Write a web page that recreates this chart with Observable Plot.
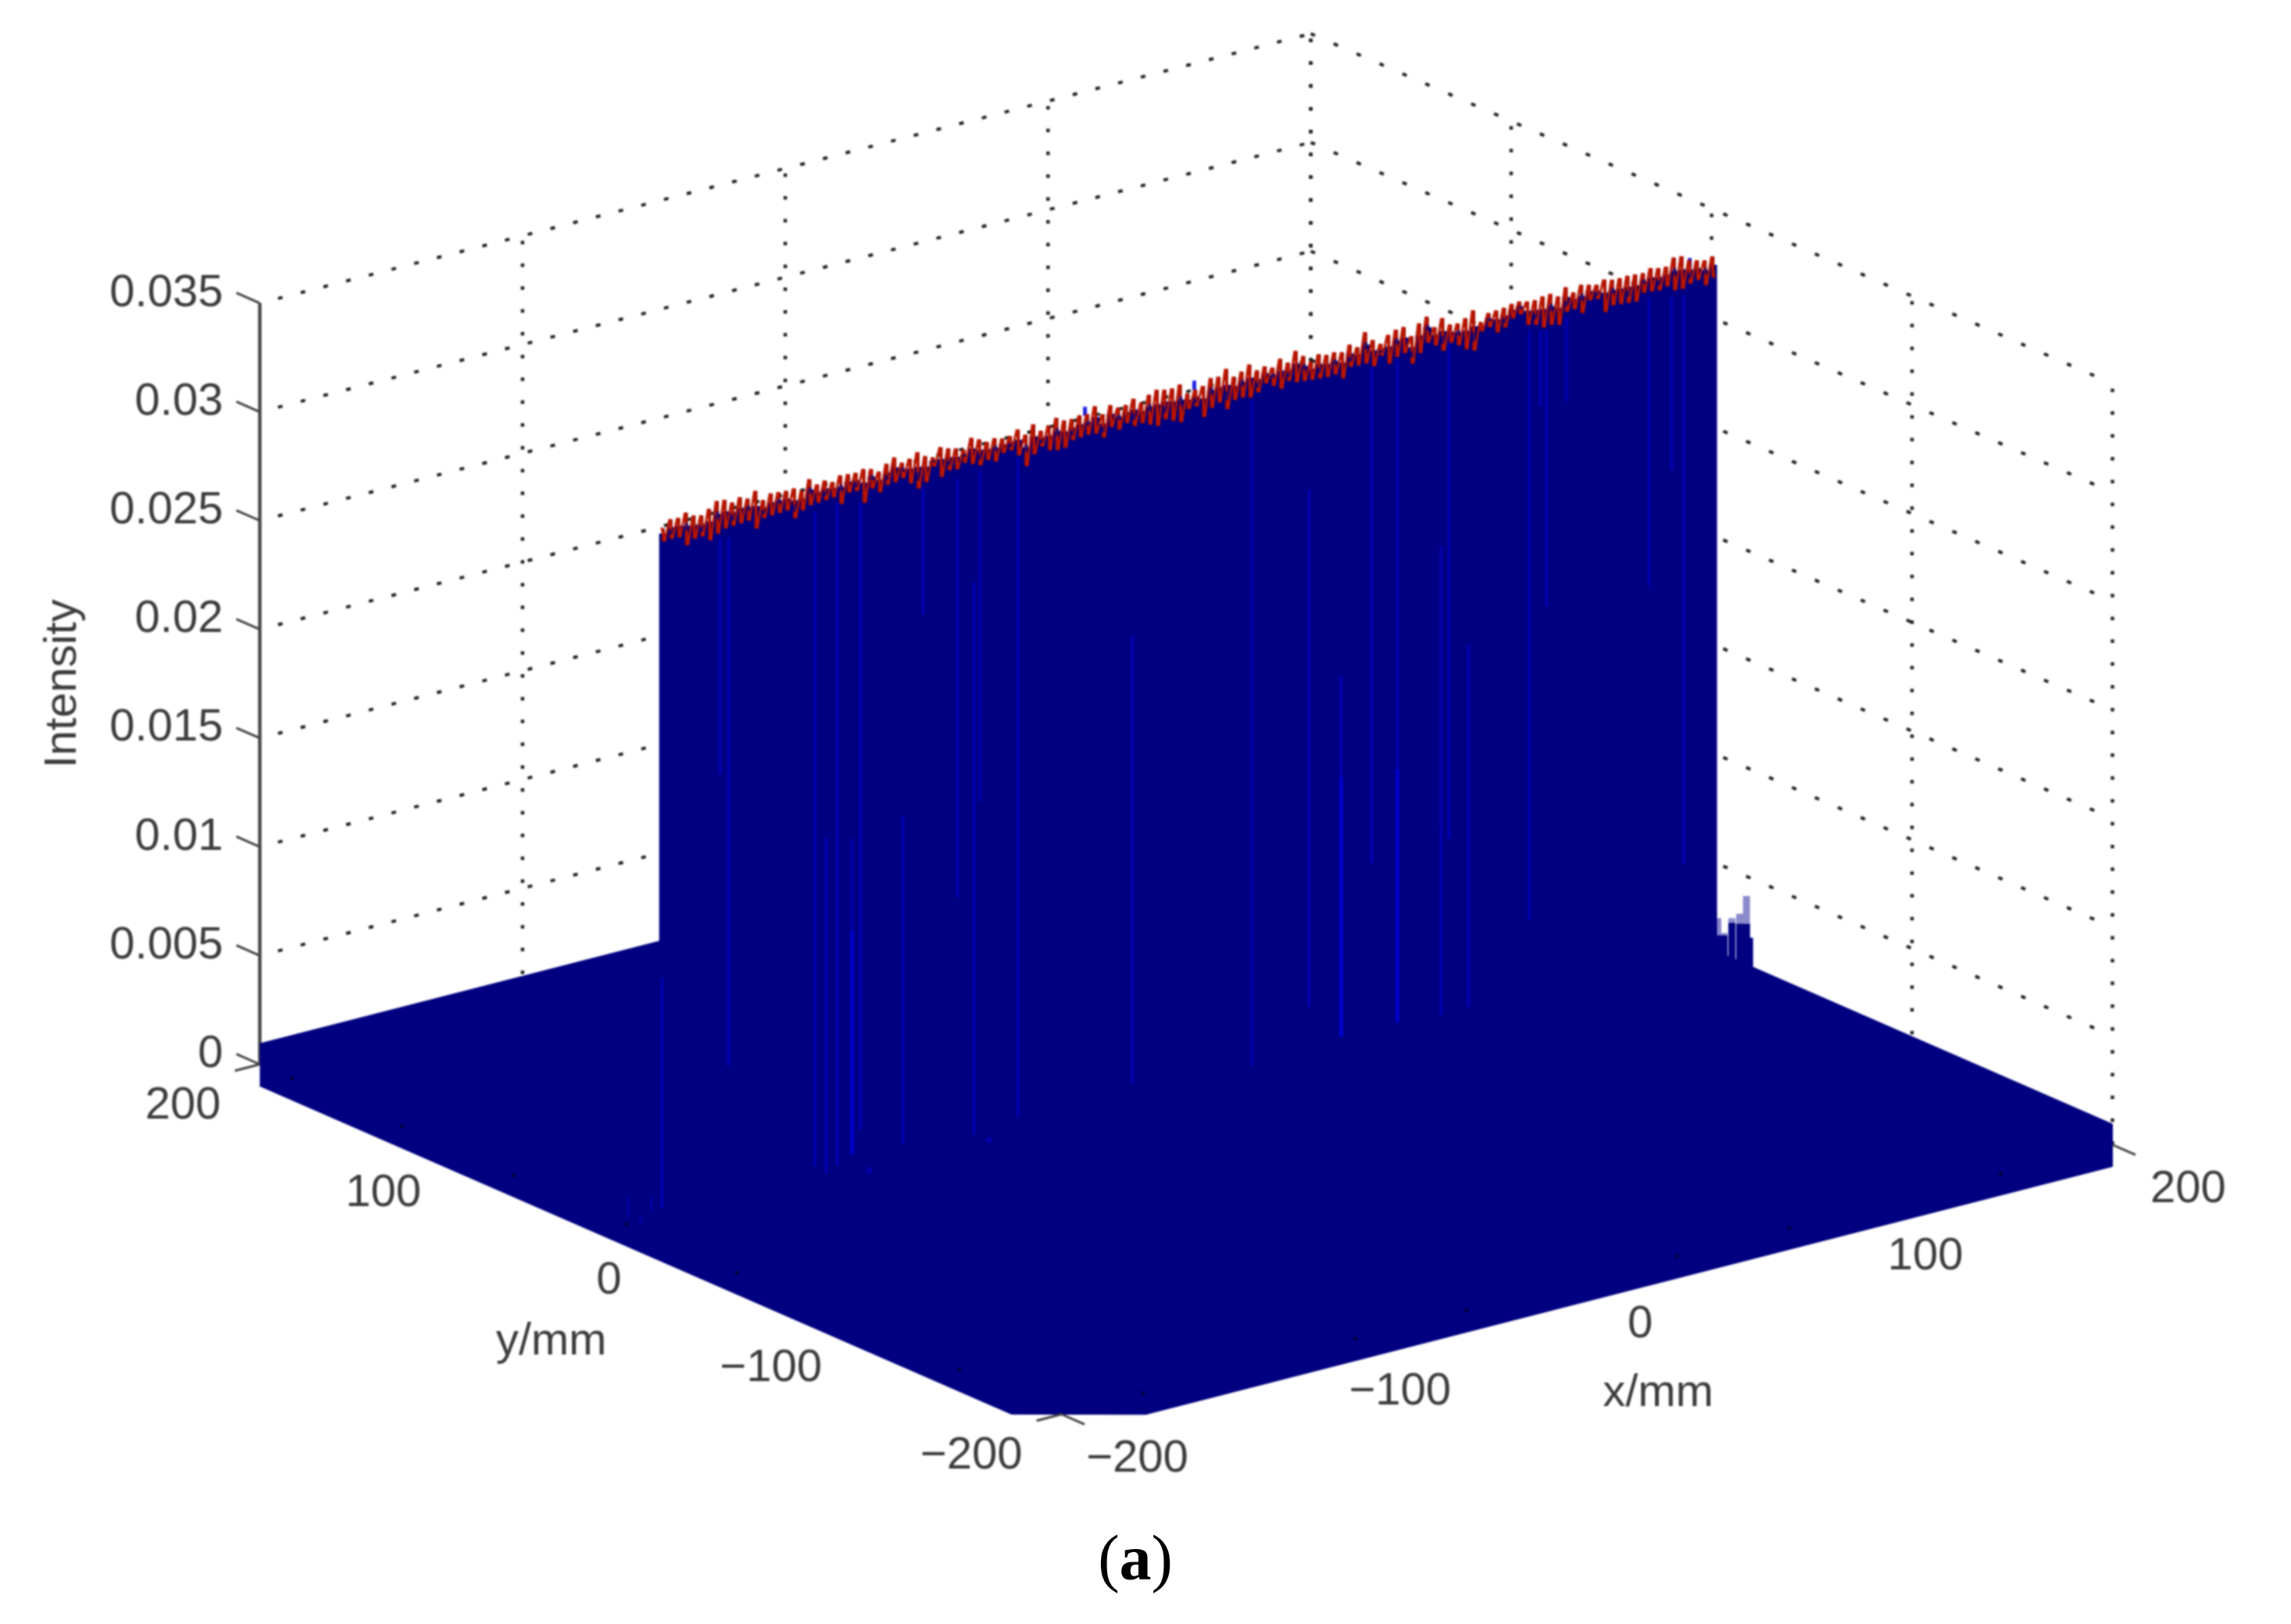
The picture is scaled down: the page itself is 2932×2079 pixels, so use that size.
<!DOCTYPE html>
<html>
<head>
<meta charset="utf-8">
<script src="https://cdn.jsdelivr.net/npm/d3@7"></script>
<script src="https://cdn.jsdelivr.net/npm/@observablehq/plot@0.6"></script>
<style>
html,body{margin:0;padding:0;background:#fff}
svg{display:block;filter:blur(0.8px)}
#cap{width:2906px;height:90px;text-align:center;font:82px/90px "Liberation Serif",serif;color:#000}
</style>
</head>
<body>
<div id="chart"></div>
<div id="cap">(<b>a</b>)</div>
<script>
// Axis values
const zTicks = [0, 0.005, 0.01, 0.015, 0.02, 0.025, 0.03, 0.035];
const zTickLabels = ["0", "0.005", "0.01", "0.015", "0.02", "0.025", "0.03", "0.035"];
const xTicks = [-200, -100, 0, 100, 200];
const yTicks = [-200, -100, 0, 100, 200];
const gridX = [-100, 0, 100, 200];
const gridY = [-200, -100, 0, 100, 200];

// Ridge at y = 0: upper and lower envelope of the red trace along x (intensity x 1e-5)
const ridgeHigh = [3266,3299,3296,3311,3289,3280,3301,3328,3324,3303,3318,3303,3329,3278,3299,3296,3293,3295,3275,3319,3286,3295,3279,3300,3297,3294,3302,3293,3272,3299,3319,3286,3295,3316,3289,3274,3312,3297,3288,3273,3318,3302,3281,3289,
3279,3281,3302,3269,3308,3269,3283,3310,3289,3286,3294,3291,3318,3272,3305,3284,3287,3307,3280,3307,3321,3312,3309,3318,3267,3275,3284,3311,3308,3335,3290,3304,3328,3292,3301,3286,3318,3291,3336,3303,3269,3293,3281,3284,3275,3301,3280,
3340,3295,3268,3300,3315,3318,3267,3317,3338,3281,3314,3275,3271,3286,3313,3250,3282,3285,3288,3297,3299,3290,3287,3295,3298,3277,3310,3277,3303,3294,3285,3300,3290,3288,3290,3287,3284,3298,3289,3286,3319,3316,3289,3279,3270,3279];
const ridgeLow = [3206,3209,3206,3161,3182,3184,3157,3178,3193,3196,3198,3201,3156,3195,3198,3200,3203,3158,3185,3200,3202,3205,3208,3169,3213,3210,3147,3204,3177,3203,3206,3215,3182,3149,3169,3232,3175,3196,3192,3213,3198,3183,3198,3182,
3213,3216,3183,3125,3170,3197,3170,3161,3163,3190,3193,3196,3192,3165,3204,3183,3204,3182,3185,3170,3155,3176,3160,3145,3196,3199,3141,3174,3189,3150,3183,3185,3176,3191,3223,3202,3180,3207,3192,3189,3185,3182,3179,3182,3155,3199,3196,
3196,3175,3214,3168,3190,3198,3141,3180,3219,3197,3164,3191,3170,3143,3128,3208,3217,3184,3198,3231,3240,3183,3174,3152,3155,3146,3197,3200,3173,3223,3220,3151,3172,3169,3165,3162,3194,3191,3187,3196,3169,3166,3181,3189,3156,3183];

// Lighter blue stems on the ridge
const stemX = [-199.4,-177.4,-174.1,-141.4,-137,-132.8,-127.1,-123.9,-107.8,-100.1,-87,-80.7,-78.4,-64,-20.4,25.1,46.8,59,70.6,80.4,97.1,100.1,107.5,130.7,134.9,137.2,144.7,176.2,184.8,189.3];
const stemTop = [0.01198,0.03157,0.03148,0.03161,0.01652,0.0318,0.01615,0.03154,0.01659,0.0315,0.03146,0.02651,0.03156,0.03172,0.02219,0.03162,0.0268,0.01788,0.03172,0.03178,0.02268,0.03203,0.01781,0.03154,0.03143,0.03135,0.03172,0.03168,0.0314,0.03135];
const stemBottom = [0.0014,0.02066,0.00715,0.00157,0.00107,0.0013,0.00166,0.00267,0.00153,0.02562,0.01219,0.00111,0.01639,0.00143,0.00159,0.001,0.00302,0.00128,0.0089,0.0013,0.0011,0.0091,0.00114,0.00443,0.02792,0.01865,0.02786,0.01834,0.02344,0.00521];
const brightX = [-127.1, 59, 80.4];
const brightTop = [0.01193, 0.01323, 0.01289];
const brightBottom = [0.00166, 0.00128, 0.0013];
const peakX = [-38.5, 3.1, 191.7];
const peakTop = [0.03328, 0.03319, 0.03299];
const peakBottom = [0.03286, 0.03277, 0.03251];

// Small stems near the wall's right end, at x = 200
const spurY = [-3.1, -6.2, -10.1, -14, -17.4, -18.9];
const spurTop = [0.0025, 0.00194, 0.00278, 0.00314, 0.00409, 0.00223];
const spurCore = [0.00171, 0.00183, 0.00256, 0.00268, 0.00281, 0.00223];

// Low stems on the floor
const lowY = [16, 10, 4.7];
const lowTop = [0.0013, 0.0006, 0.00175];
const lowBottom = [0.0004, 0.0003, 0.00114];
const blobX = [-120.6, -75];
const blobZ = [0.0007, 0.00068];

// Dark marks on the floor edges
const edgeY = [184, 129, 73, 17, -38, -149];
const edgeX = [-169, -88.2, -45.8, 34.3, 76.9, 157.5];

// Floor slab outline
const slabX = [-200, 200, 200, 200, -168, -200, -200];
const slabY = [200, 200, -200, -200, -200, -175, 200];
const slabZ = [0.00095, 0.00095, 0.00095, -0.001, -0.001, -0.001, -0.001];

// Oblique view of the data cube
const origin = [1358, 1810];
const perX = [3.3625, -0.8625];
const perY = [-2.565, -1.12];
const perZ = -27840;
const px = (x, y) => origin[0] + (x + 200) * perX[0] + (y + 200) * perY[0];
const py = (x, y, z) => origin[1] + (x + 200) * perX[1] + (y + 200) * perY[1] + z * perZ;

const seg = (a, b) => ({x1: px(a[0], a[1]), y1: py(...a), x2: px(b[0], b[1]), y2: py(...b)});
const linkOf = (rows, o) => Plot.link(rows, {x1: "x1", y1: "y1", x2: "x2", y2: "y2", ...o});

const leftGrid = zTicks.map(z => seg([-200, 200, z], [200, 200, z]));
const rightGrid = zTicks.map(z => seg([200, 200, z], [200, -200, z]));
const vertGrid = [
  ...gridX.map(x => seg([x, 200, 0], [x, 200, 0.035])),
  ...gridY.map(y => seg([200, y, 0], [200, y, 0.035]))
];
const slab = slabX.map((x, i) => ({X: px(x, slabY[i]), Y: py(x, slabY[i], slabZ[i])}));

const n = ridgeHigh.length;
const ridgeXAt = i => -199 + i * 399.5 / (n - 1);
const between = (i, t) => (ridgeLow[i] + t * (ridgeHigh[i] - ridgeLow[i])) / 1e5;
const wall = ridgeHigh.map((h, i) => seg([ridgeXAt(i), 0, 0], [ridgeXAt(i), 0, between(i, 0.6)]));
const columns = ridgeHigh.map((h, i) => seg([ridgeXAt(i), 0, ridgeLow[i] / 1e5], [ridgeXAt(i), 0, h / 1e5]));
const holes = ridgeHigh.flatMap((h, i) => i % 2 === 1
  ? [seg([ridgeXAt(i), 0, between(i, i % 4 === 1 ? 0.22 : 0.45)], [ridgeXAt(i), 0, between(i, i % 4 === 1 ? 0.45 : 0.68)])]
  : []);
const zig = [];
ridgeHigh.forEach((h, i) => {
  zig.push({X: px(ridgeXAt(i) - 0.6, 0), Y: py(ridgeXAt(i), 0, h / 1e5)});
  zig.push({X: px(ridgeXAt(i) + 0.6, 0), Y: py(ridgeXAt(i), 0, ridgeLow[i] / 1e5)});
});
const stems = stemX.map((x, i) => seg([x, 0, stemBottom[i]], [x, 0, stemTop[i]]));
const brights = brightX.map((x, i) => seg([x, 0, brightBottom[i]], [x, 0, brightTop[i]]));
const peaks = peakX.map((x, i) => seg([x, 0, peakBottom[i]], [x, 0, peakTop[i]]));
const spurs = spurY.map((y, i) => seg([200, y, 0.0005], [200, y, spurTop[i]]));
const cores = spurY.map((y, i) => seg([200, y, 0.0005], [200, y, spurCore[i]]));
const lows = lowY.map((y, i) => seg([-200, y, lowBottom[i]], [-200, y, lowTop[i]]));

const zTickSegs = zTicks.map(z => seg([-200, 200, z], [-200, 211.7, z]));
const floorTicks = [
  seg([-200, 200, 0], [-209.5, 200, 0]),
  seg([-200, -200, 0], [-209.5, -200, 0]),
  seg([-200, -200, 0], [-200, -211.5, 0]),
  seg([200, -200, 0], [200, -211.5, 0])
];
const marks = [
  ...edgeY.map(y => ({X: px(-200, y), Y: py(-200, y, 0)})),
  ...edgeX.map(x => ({X: px(x, -200), Y: py(x, -200, 0)}))
];
const blobs = blobX.map((x, i) => ({X: px(x, 0), Y: py(x, 0, blobZ[i])}));

const label = (rows, o) => Plot.text(rows, {x: "X", y: "Y", text: "t", fontSize: 58, fill: "#3c3c3c", ...o});
const zLabels = zTicks.map((z, i) => ({X: px(-200, 200), Y: py(-200, 200, z), t: zTickLabels[i]}));
const fmt = v => (v < 0 ? "\u2212" + (-v) : String(v));
const yLabels = yTicks.map(v => ({X: px(-200, v), Y: py(-200, v, 0), t: fmt(v)}));
const xLabels = xTicks.map(v => ({X: px(v, -200) + (v === 0 ? 68 : 97), Y: py(v, -200, 0), t: fmt(v)}));

const navy = "#000080";
const fig = Plot.plot({
  width: 2932, height: 1950,
  marginTop: 0, marginRight: 0, marginBottom: 0, marginLeft: 0,
  x: {domain: [0, 2932], range: [0, 2932], axis: null},
  y: {domain: [0, 1950], range: [0, 1950], axis: null},
  style: {fontFamily: '"Liberation Sans", Arial, sans-serif', background: "#fff"},
  marks: [
    linkOf(leftGrid, {stroke: "#222", strokeWidth: 4, strokeDasharray: "6 24", strokeDashoffset: -24}),
    linkOf(rightGrid, {stroke: "#222", strokeWidth: 4, strokeDasharray: "6 26"}),
    linkOf(vertGrid, {stroke: "#222", strokeWidth: 4.5, strokeDasharray: "4.5 24.7"}),
    linkOf([seg([-200, 200, 0], [-200, 200, 0.035])], {stroke: "#4a4a4a", strokeWidth: 4.5}),
    linkOf(zTickSegs, {stroke: "#444", strokeWidth: 3}),
    linkOf(spurs, {stroke: "#8a8acc", strokeWidth: 9}),
    linkOf(cores, {stroke: navy, strokeWidth: 9}),
    Plot.line(slab, {x: "X", y: "Y", fill: navy, stroke: navy, strokeWidth: 1}),
    linkOf(wall, {stroke: navy, strokeWidth: 10.6}),
    linkOf(stems, {stroke: "#0000b0", strokeWidth: 4}),
    linkOf(brights, {stroke: "#0000cc", strokeWidth: 5}),
    linkOf(lows, {stroke: "#0000a8", strokeWidth: 3}),
    Plot.dot(blobs, {x: "X", y: "Y", r: 4, fill: "#0000a8"}),
    linkOf(peaks, {stroke: "#2222e0", strokeWidth: 5}),
    linkOf(columns, {stroke: "#a80e00", strokeWidth: 4}),
    Plot.line(zig, {x: "X", y: "Y", stroke: "#a80e00", strokeWidth: 2.8, strokeLinejoin: "bevel"}),
    linkOf(holes, {stroke: "#14006a", strokeWidth: 4.5}),
    Plot.line(zig, {x: "X", y: "Y", stroke: "#dc2800", strokeWidth: 1, strokeOpacity: 0.7, strokeLinejoin: "bevel"}),
    Plot.dot(marks, {x: "X", y: "Y", r: 2.2, fill: "#00002a"}),
    linkOf(floorTicks, {stroke: "#444", strokeWidth: 3}),
    label(zLabels, {textAnchor: "end", dx: -47, dy: -15}),
    label(yLabels, {textAnchor: "end", dx: -50, dy: 51}),
    label(xLabels, {textAnchor: "middle", dy: 55}),
    label([{X: px(0, -200), Y: py(0, -200, 0), t: "x/mm"}], {textAnchor: "middle", dx: 91, dy: 143}),
    label([{X: px(-200, 0), Y: py(-200, 0, 0), t: "y/mm"}], {textAnchor: "middle", dx: -140, dy: 129}),
    label([{X: px(-200, 200), Y: py(-200, 200, 0.0175), t: "Intensity"}], {textAnchor: "middle", dx: -254, rotate: -90})
  ]
});
document.getElementById("chart").appendChild(fig);
</script>
</body>
</html>
